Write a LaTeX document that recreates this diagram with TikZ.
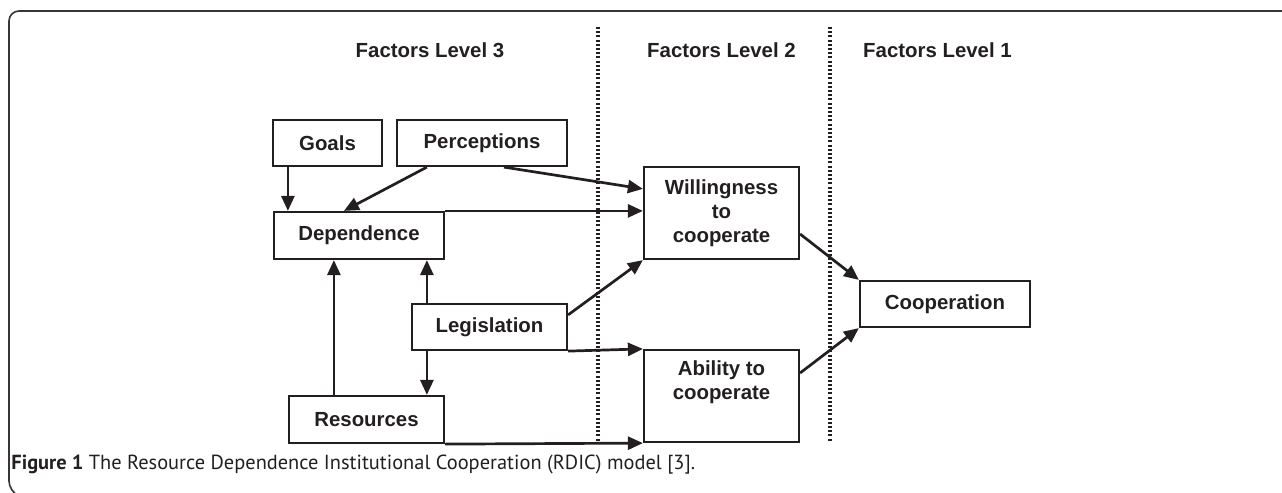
\documentclass[tikz,border=0pt]{standalone}
\usepackage{fontspec}
\setmainfont{Liberation Sans}
\newfontfamily\capfont{PT Sans}
\usetikzlibrary{arrows.meta}
\definecolor{ink}{HTML}{231F20}
\tikzset{
  factor/.style={draw=ink, text=ink, line width=1.1pt, align=center, inner sep=0pt,
    font=\bfseries\fontsize{10.2}{12}\selectfont},
  link/.style={draw=ink, line width=1.35pt, -{Triangle[length=7.5pt,width=6.5pt]}},
  levelsep/.style={draw=ink, line width=1.6pt, dash pattern=on 1pt off 1.1pt},
  levelhead/.style={text=ink, font=\bfseries\fontsize{10.2}{12}\selectfont},
  figcaption/.style={text=ink, inner sep=0pt, font=\capfont\fontsize{10.2}{12}\selectfont},
}

\begin{document}
\begin{tikzpicture}[x=0.5pt, y=-0.5pt]
			%%%%% START %%%%%
			\useasboundingbox (0,0) rectangle (1282,493);
			
			\draw[ink!90, line width=0.8pt, rounded corners=5pt] (1282,11) -- (9,11) -- (9,491) -- (13,493);
			
			\node[levelhead] (head3) at (430,50) {Factors Level 3};
			\node[levelhead] (head2) at (721.5,50) {Factors Level 2};
			\node[levelhead] (head1) at (937.5,50) {Factors Level 1};
			
			\draw[levelsep] (598,27) -- (598,441);
			\draw[levelsep] (830,27) -- (830,441);
			
			\node[factor, minimum width=54.5pt, minimum height=23pt] (goals) at (327.5,143) {Goals};
			\node[factor, minimum width=85pt, minimum height=23pt] (percep) at (482,143) {Perceptions};
			\node[factor, minimum width=85pt, minimum height=23.5pt] (depend) at (359,235.5) {Dependence};
			\node[factor, minimum width=77.5pt, minimum height=23pt] (legis) at (489.5,327) {Legislation};
			\node[factor, minimum width=77.5pt, minimum height=23.5pt] (resour) at (366.5,419.5) {Resources};
			
			\node[factor, minimum width=77.5pt, minimum height=46pt] (willing) at (721.5,213) {Willingness\\to\\cooperate};
			\node[factor, minimum width=77.5pt, minimum height=46pt] (ability) at (721.5,396) {Ability to\\cooperate\\\strut};
			
			\node[factor, minimum width=85pt, minimum height=23pt] (coop) at (945,304) {Cooperation};
			
			% level 3 among themselves
			\draw[link] ([xshift=8pt]goals.south west) -- ([xshift=8pt]goals.south west |- depend.north);
			\draw[link] ([xshift=15.5pt]percep.south west) -- ([xshift=35.5pt]depend.north west);
			\draw[link] ([xshift=23pt]resour.north west) -- ([xshift=23pt]resour.north west |- depend.south);
			\draw[link] ([xshift=8pt]legis.north west) -- ([xshift=8pt]legis.north west |- depend.south);
			\draw[link] ([xshift=8pt]legis.south west) -- ([xshift=8pt]legis.south west |- resour.north);
			
			% level 3 to level 2
			\draw[link] ([xshift=54pt]percep.south west) -- ([yshift=-11.5pt]willing.north west);
			\draw[link] (depend.north east) -- (depend.north east -| willing.west);
			\draw[link] ([yshift=-6pt]legis.north east) -- (willing.south west);
			\draw[link] (legis.south east) -- (ability.north west);
			\draw[link] (resour.south east) -- (ability.south west);
			
			% level 2 to level 1
			\draw[link] ([yshift=-10.5pt]willing.east) -- (coop.north west);
			\draw[link] ([yshift=11.5pt]ability.east) -- (coop.south west);
			
			\node[figcaption, anchor=base west] (caption) at (11,469) {\textbf{Figure 1} The Resource Dependence Institutional Cooperation (RDIC) model [3].};
			%%%%% END %%%%%
\end{tikzpicture}
\end{document}
